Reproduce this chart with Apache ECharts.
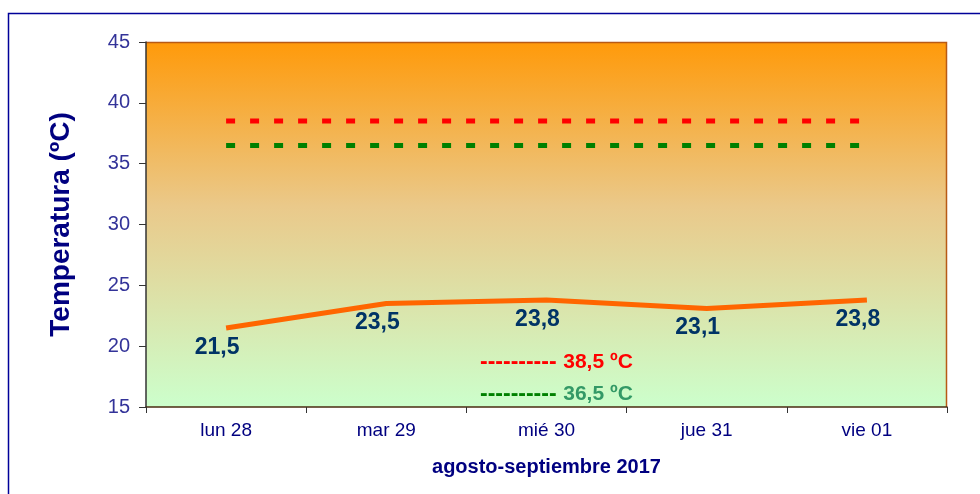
<!DOCTYPE html>
<html>
<head>
<meta charset="utf-8">
<script src="https://cdn.jsdelivr.net/npm/echarts@6/dist/echarts.min.js"></script>
<style>
  html, body { margin: 0; padding: 0; background: #fff; }
  #chart { width: 980px; height: 494px; }
</style>
</head>
<body>
<div id="chart"></div>
<script>
// datos
const dias = ['lun 28', 'mar 29', 'mié 30', 'jue 31', 'vie 01']
const temperatura = [21.5, 23.5, 23.8, 23.1, 23.8]
const umbralRojo = [38.5, 38.5, 38.5, 38.5, 38.5]
const umbralVerde = [36.5, 36.5, 36.5, 36.5, 36.5]

const fuente = '"Liberation Sans", Arial, sans-serif'
const myChart = echarts.init(document.getElementById('chart'))

myChart.setOption({
  backgroundColor: '#fff',
  animation: false,
  textStyle: { fontFamily: fuente },
  grid: {
    show: true,
    left: 146,
    right: 33,
    top: 42,
    bottom: 87,
    borderWidth: 0,
    // degradado naranja -> verde
    backgroundColor: new echarts.graphic.LinearGradient(0, 0, 0, 1, [
      { offset: 0, color: '#ff9a0a' },
      { offset: 0.45, color: '#eac98a' },
      { offset: 1, color: '#ccffcc' }
    ])
  },
  graphic: [
    // marco exterior
    {
      type: 'rect',
      shape: { x: 8.5, y: 13.5, width: 990, height: 500 },
      style: { fill: 'none', stroke: '#000099', lineWidth: 1.5 },
      silent: true
    },
    // borde superior / derecho del área
    {
      type: 'polyline',
      shape: { points: [[146, 42.5], [946.5, 42.5], [946.5, 407]] },
      style: { fill: 'none', stroke: '#b85a14', lineWidth: 1.5 },
      silent: true
    },
    {
      type: 'text',
      left: 480,
      top: 351,
      style: {
        text: '{d|----------}  {t|38,5 ºC}',
        rich: {
          d: { fill: '#ff0000', fontSize: 23, fontWeight: 'bold', fontFamily: fuente },
          t: { fill: '#ff0000', fontSize: 21, fontWeight: 'bold', fontFamily: fuente }
        }
      }
    },
    {
      type: 'text',
      left: 480,
      top: 383,
      style: {
        text: '{d|----------}  {t|36,5 ºC}',
        rich: {
          d: { fill: '#008000', fontSize: 23, fontWeight: 'bold', fontFamily: fuente },
          t: { fill: '#339966', fontSize: 21, fontWeight: 'bold', fontFamily: fuente }
        }
      }
    }
  ],
  xAxis: {
    type: 'category',
    data: dias,
    boundaryGap: true,
    name: 'agosto-septiembre 2017',
    nameLocation: 'middle',
    nameGap: 50,
    nameTextStyle: { color: '#000080', fontSize: 20, fontWeight: 'bold', fontFamily: fuente },
    axisLine: { lineStyle: { color: '#4a2c12', width: 1.5 } },
    axisTick: { show: true, length: 6, lineStyle: { color: '#333' } },
    axisLabel: { color: '#000080', fontSize: 19, margin: 14, fontFamily: fuente },
    splitLine: { show: false }
  },
  yAxis: {
    type: 'value',
    min: 15,
    max: 45,
    interval: 5,
    name: 'Temperatura (ºC)',
    nameLocation: 'middle',
    nameGap: 71,
    nameTextStyle: { color: '#000080', fontSize: 28, fontWeight: 'bold', fontFamily: fuente },
    axisLine: { show: true, lineStyle: { color: '#333', width: 1.5 } },
    axisTick: { show: true, length: 7, lineStyle: { color: '#333' } },
    axisLabel: { color: '#333399', fontSize: 20, margin: 16, fontFamily: fuente },
    splitLine: { show: false }
  },
  series: [
    {
      type: 'line',
      data: umbralRojo,
      symbol: 'none',
      silent: true,
      lineStyle: { color: '#ff0000', width: 5, type: [9, 15] }
    },
    {
      type: 'line',
      data: umbralVerde,
      symbol: 'none',
      silent: true,
      lineStyle: { color: '#008000', width: 5, type: [9, 15] }
    },
    {
      type: 'line',
      data: temperatura,
      symbol: 'circle',
      symbolSize: 2,
      showSymbol: true,
      itemStyle: { color: 'rgba(0,0,0,0)' },
      lineStyle: { color: '#ff6600', width: 5 },
      label: {
        show: true,
        position: 'bottom',
        distance: 7,
        offset: [-9, 0],
        color: '#003366',
        fontSize: 23,
        fontWeight: 'bold',
        fontFamily: fuente,
        formatter: (p) => p.value.toFixed(1).replace('.', ',')
      }
    }
  ]
})
</script>
</body>
</html>
